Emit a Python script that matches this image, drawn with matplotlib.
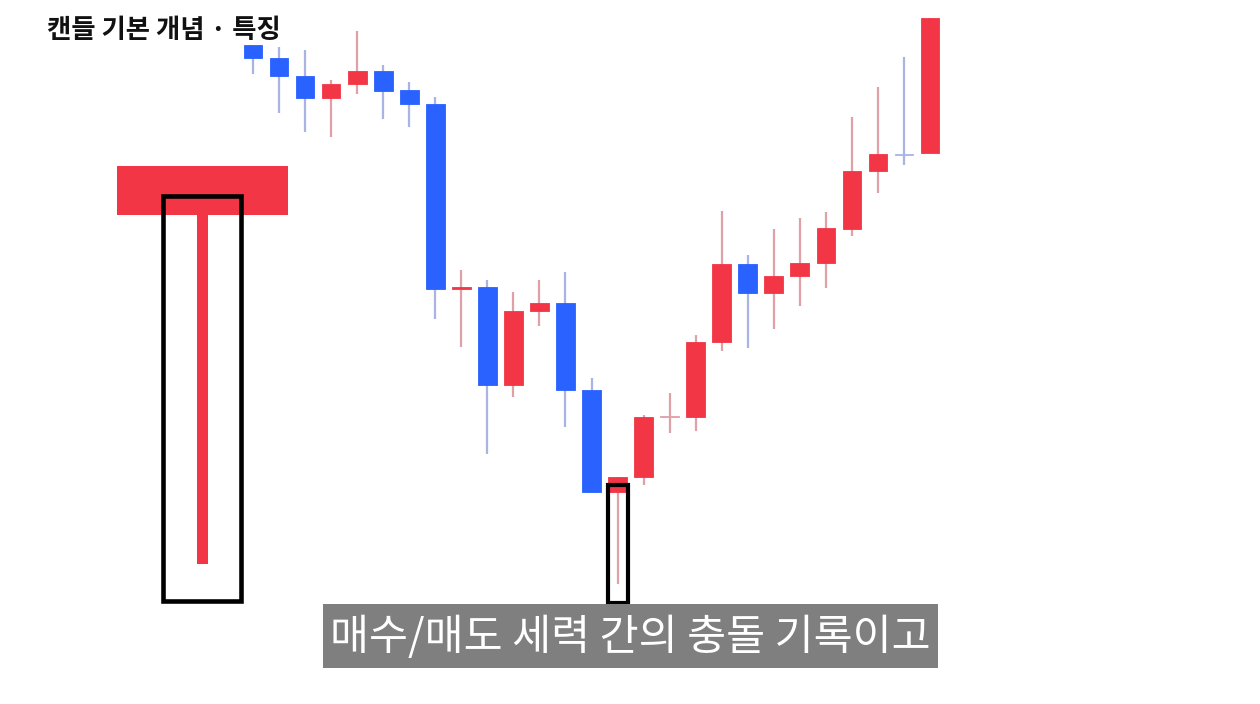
import matplotlib
matplotlib.use("Agg")
import matplotlib.pyplot as plt
from matplotlib.patches import Rectangle
import numpy as np

plt.rcParams["font.family"] = ["Noto Sans CJK KR", "DejaVu Sans"]

RED = "#F23645"; BLUE = "#2962FF"
RED_WICK = "#DFA0A8"; BLUE_WICK = "#A9B4E4"
INK = "#111111"; CAP_BG = "#7F7F7F"

W, H = 1260, 704

# candle data (price units)
opens = [659, 646, 628, 606, 620, 633, 614, 600, 415, 417, 319, 393, 401, 314,
         212, 227, 287, 287, 362, 440, 411, 428, 441, 475, 533, 550, 551]
highs = [659, 657, 654, 624, 673, 639, 622, 607, 434, 424, 412, 424, 432, 326,
         227, 289, 311, 369, 493, 449, 475, 486, 492, 587, 617, 647, 686]
lows = [630, 591, 572, 567, 610, 585, 577, 385, 357, 250, 307, 378, 277, 212,
        120, 219, 271, 273, 353, 356, 375, 398, 416, 468, 511, 539, 551]
closes = [646, 628, 606, 620, 633, 613, 600, 415, 417, 319, 393, 401, 314, 212,
          227, 287, 288, 362, 440, 411, 428, 441, 476, 533, 550, 549, 686]
highlight = 14  # the long-tailed candle that is boxed

title = "캔들 기본 개념 · 특징"
caption = "매수/매도 세력 간의 충돌 기록이고"

o = np.array(opens); h = np.array(highs); l = np.array(lows); c = np.array(closes)
x = np.arange(len(o))
up = c >= o
wick_col = np.where(up, RED_WICK, BLUE_WICK)
# near-flat candles (crosses) show only in the lighter wick colour
body_col = np.where(np.abs(c - o) <= 1, wick_col, np.where(up, RED, BLUE))

fig = plt.figure(figsize=(W / 100, H / 100), dpi=100)
fig.patch.set_facecolor("white")
ax = fig.add_axes([0, 0, 1, 1])
ax.set_xlim(-253 / 26.04, (W - 253) / 26.04)
ax.set_ylim(0, H)
ax.axis("off")

ax.vlines(x, l, h, colors=wick_col, lw=1.6, zorder=1)
bottom = np.minimum(o, c)
height = np.maximum(np.abs(c - o), 1.4)
ax.bar(x, height, bottom=bottom, width=0.72, color=body_col,
       edgecolor=body_col, lw=0.6, zorder=2)

# box around the highlighted candle
i = highlight
ax.add_patch(Rectangle((i - 0.385, l[i] - 19), 0.77, 118, fill=False,
                       ec="black", lw=3, zorder=3))

# enlarged hammer illustration on the left (figure pixels, y from top)
def px_rect(x0, y0, x1, y1, **kw):
    fig.patches.append(Rectangle((x0 / W, 1 - y1 / H), (x1 - x0) / W, (y1 - y0) / H,
                                 transform=fig.transFigure, **kw))

px_rect(117, 166, 288, 215, color=RED, lw=0, zorder=2)
px_rect(197, 214, 208, 564, color=RED, lw=0, zorder=2)
px_rect(163, 196, 241, 601, fill=False, ec="black", lw=3.3, zorder=3)

# title
fig.text(47 / W, 1 - 31 / H, title, ha="left", va="center", fontsize=19,
         fontweight="heavy", color=INK)

# caption bar
px_rect(323, 604, 938, 668, color=CAP_BG, lw=0, zorder=4)
fig.text(630 / W, 1 - 638 / H, caption, ha="center", va="center", fontsize=30.5,
         color="white", zorder=5)

fig.savefig("out.png", dpi=100, facecolor="white")
